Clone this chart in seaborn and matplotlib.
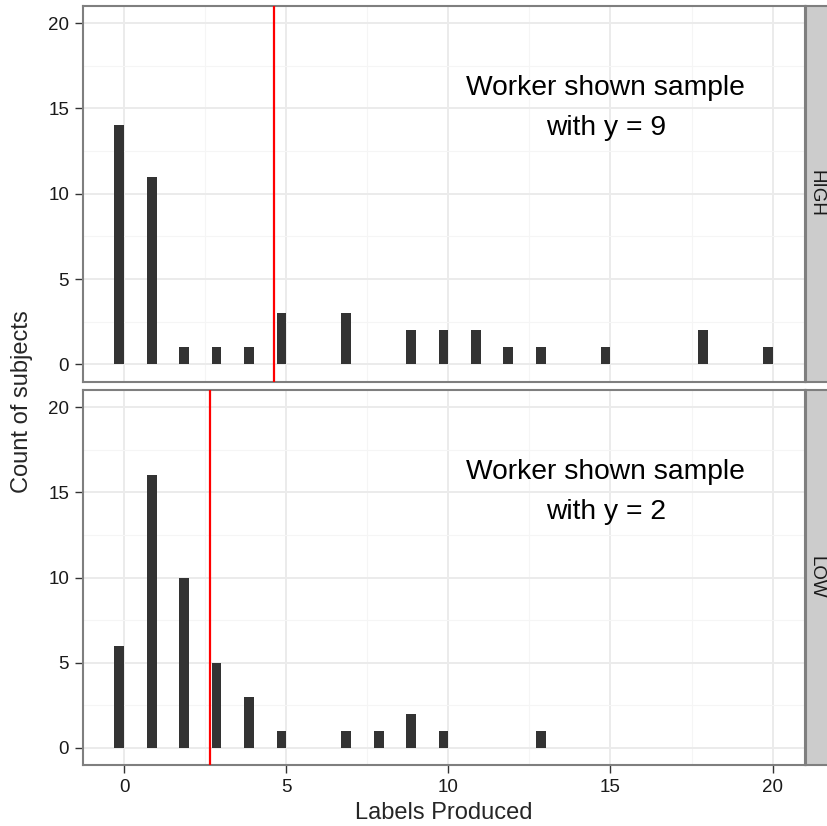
import numpy as np
import pandas as pd
import seaborn as sns
import matplotlib.pyplot as plt

# counts of subjects per number of labels produced, one facet per condition
labels_high = [0, 1, 2, 3, 4, 5, 7, 9, 10, 11, 12, 13, 15, 18, 20]
counts_high = [14, 11, 1, 1, 1, 3, 3, 2, 2, 2, 1, 1, 1, 2, 1]
labels_low = [0, 1, 2, 3, 4, 5, 7, 8, 9, 10, 13]
counts_low = [6, 16, 10, 5, 3, 1, 1, 1, 2, 1, 1]
conditions = ['HIGH', 'LOW']
shown_y = [9, 2]

sns.set_theme(style='white')
plt.rcParams['font.family'] = ['Liberation Sans', 'DejaVu Sans']

W, H = 828, 826
fig = plt.figure(figsize=(W / 100, H / 100), dpi=100)

bar_w = 0.3
panels = [(6, 381.5), (390, 765)]   # top / bottom pixel edges of each panel
left_px, right_px = 83, 805

data = [(labels_high, counts_high), (labels_low, counts_low)]

for i, ((labs, cnts), cond, ysh) in enumerate(zip(data, conditions, shown_y)):
    top, bot = panels[i]
    ax = fig.add_axes([left_px / W, 1 - bot / H, (right_px - left_px) / W, (bot - top) / H])
    df = pd.DataFrame({'labels': labs, 'count': cnts})
    df['pos'] = df['labels'] - bar_w / 2
    sns.barplot(data=df, x='pos', y='count', native_scale=True, width=bar_w,
                color='#333333', saturation=1, errorbar=None, linewidth=0, ax=ax)

    # red line at the mean number of labels
    mean_val = np.average(labs, weights=cnts)
    ax.axvline(mean_val, color='red', lw=1.6, zorder=3)

    ax.text(14.85, 15, f'Worker shown sample\nwith y = {ysh}', ha='center', va='center',
            fontsize=20.3, linespacing=1.7, color='black')

    ax.set_xlim(-1.27, 21.0)
    ax.set_ylim(-1, 21)
    ax.set_xticks([0, 5, 10, 15, 20])
    ax.set_xticks([2.5, 7.5, 12.5, 17.5], minor=True)
    ax.set_yticks([0, 5, 10, 15, 20])
    ax.set_yticks([2.5, 7.5, 12.5, 17.5], minor=True)
    ax.set_axisbelow(True)
    ax.grid(which='major', color='#EBEBEB', lw=1.4)
    ax.grid(which='minor', color='#F5F5F5', lw=0.8)
    ax.set_xlabel('')
    ax.set_ylabel('')
    for sp in ax.spines.values():
        sp.set_color('#7F7F7F')
        sp.set_linewidth(1.5)
    ax.tick_params(which='minor', length=0)
    ax.tick_params(axis='y', which='major', left=True, length=6, width=1, color='#333333',
                   labelsize=13.5, labelcolor='#1A1A1A', pad=4)
    if i == 0:
        ax.tick_params(axis='x', which='major', length=0, labelbottom=False)
    else:
        ax.tick_params(axis='x', which='major', bottom=True, length=6, width=1, color='#333333',
                       labelsize=13.5, labelcolor='#1A1A1A', pad=4)

    # facet strip on the right
    sax = fig.add_axes([806 / W, 1 - bot / H, 26 / W, (bot - top) / H])
    sax.set_facecolor('#CCCCCC')
    sax.set_xticks([])
    sax.set_yticks([])
    for sp in sax.spines.values():
        sp.set_color('#7F7F7F')
        sp.set_linewidth(1.5)
    sax.text(0.4, 0.5, cond, rotation=-90, ha='center', va='center',
             fontsize=13.5, color='#1A1A1A', transform=sax.transAxes)

fig.text(444 / W, 1 - 819 / H, 'Labels Produced', ha='center', va='baseline', fontsize=17)
fig.text(22.5 / W, 1 - 402 / H, 'Count of subjects', ha='center', va='center',
         rotation=90, fontsize=17)

fig.savefig('out.png', dpi=100)
